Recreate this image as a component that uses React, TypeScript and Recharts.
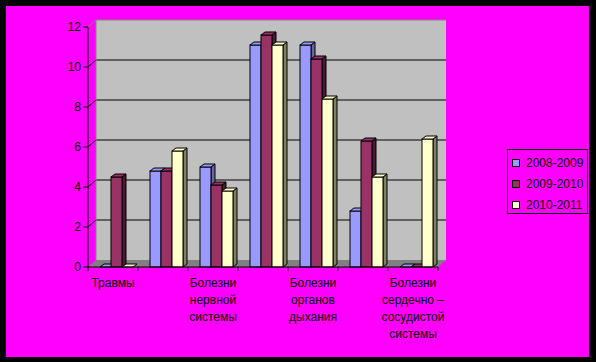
import React from 'react';
import { BarChart, Bar, XAxis, YAxis, ReferenceArea } from 'recharts';

// categories (only every other one carries a caption in the original)
const categories = [
  'Травмы',
  '',
  'Болезни нервной системы',
  '',
  'Болезни органов дыхания',
  '',
  'Болезни сердечно – сосудистой системы',
];

const seriesNames = ['2008-2009', '2009-2010', '2010-2011'];
const values2008 = [0, 4.8, 5.0, 11.1, 11.1, 2.8, 0];
const values2009 = [4.5, 4.8, 4.1, 11.6, 10.4, 6.3, 0];
const values2010 = [0, 5.8, 3.8, 11.1, 8.4, 4.5, 6.4];
const yTicks = [0, 2, 4, 6, 8, 10, 12];

const FRONT = ['#9999ff', '#993366', '#ffffcc'];
const SIDE = ['#666699', '#4d1933', '#808066'];

const W = 596;
const H = 362;
const MARGIN = { top: 27, right: 158, bottom: 15, left: 0 };
const Y_AXIS_W = 88;
const X_AXIS_H = 80;
const BAND_HALF = (W - MARGIN.left - MARGIN.right - Y_AXIS_W) / categories.length / 2;

// depth of the 3d walls and of the bars
const WALL_DX = 8;
const WALL_DY = 7;
const BAR_DX = 4;
const BAR_DY = 3;
const BAR_SHIFT = 3;

const data = categories.map((name, i) => ({
  name,
  s0: values2008[i],
  s1: values2009[i],
  s2: values2010[i],
}));

const series = seriesNames.map((name, i) => ({ name, key: `s${i}`, fill: FRONT[i], side: SIDE[i] }));

const Wall = (props: any) => {
  const { x, y, width, height } = props;
  const base = y + height;
  const top = yTicks[yTicks.length - 1];
  const floor = [
    [x, base],
    [x + width, base],
    [x + width + WALL_DX, base - WALL_DY],
    [x + WALL_DX, base - WALL_DY],
  ]
    .map((p) => p.join(','))
    .join(' ');
  return (
    <g>
      <rect x={x + WALL_DX} y={y - WALL_DY} width={width} height={height} fill="#c0c0c0" />
      <polygon points={floor} fill="#808080" />
      {yTicks
        .filter((t) => t > 0)
        .map((t) => {
          const ty = base - (t / top) * height;
          const c = t === top ? '#808080' : '#000';
          return (
            <g key={t}>
              <line x1={x} y1={ty} x2={x + WALL_DX} y2={ty - WALL_DY} stroke={c} />
              <line x1={x + WALL_DX} y1={ty - WALL_DY} x2={x + width + WALL_DX} y2={ty - WALL_DY} stroke={c} />
            </g>
          );
        })}
      <line x1={x + WALL_DX} y1={y - WALL_DY} x2={x + WALL_DX} y2={base - WALL_DY} stroke="#808080" />
    </g>
  );
};

const Box = (props: any) => {
  const { x, y, width, height, fill, side } = props;
  const x0 = x + BAR_SHIFT;
  const x1 = x0 + width;
  const topFace = `${x0},${y} ${x0 + BAR_DX},${y - BAR_DY} ${x1 + BAR_DX},${y - BAR_DY} ${x1},${y}`;
  const sideFace = `${x1},${y} ${x1 + BAR_DX},${y - BAR_DY} ${x1 + BAR_DX},${y + height - BAR_DY} ${x1},${y + height}`;
  return (
    <g stroke="#000" strokeWidth={1}>
      {height > 0 && <polygon points={sideFace} fill={side} />}
      {height > 0 && <rect x={x0} y={y} width={width} height={height} fill={fill} />}
      <polygon points={topFace} fill={fill} />
    </g>
  );
};

const splitLabel = (s: string) => {
  const out: string[] = [];
  s.split(' ').forEach((w) => {
    if (w === '–' && out.length) out[out.length - 1] += ' –';
    else if (w) out.push(w);
  });
  return out;
};

const XTick = (props: any) => {
  const { x, y, payload, index, visibleTicksCount } = props;
  const half = payload?.offset || BAND_HALF;
  const axisY = y - 6;
  const lines = splitLabel(String(payload?.value ?? ''));
  return (
    <g>
      <line x1={x - half} y1={axisY} x2={x - half} y2={axisY + 4} stroke="#000" />
      {index === visibleTicksCount - 1 && (
        <line x1={x + half} y1={axisY} x2={x + half} y2={axisY + 4} stroke="#000" />
      )}
      {lines.length > 0 && (
        <text x={x} y={y} textAnchor="middle" fontSize={12} fill="#000">
          {lines.map((l, i) => (
            <tspan key={i} x={x} dy={i === 0 ? 14 : 17}>
              {l}
            </tspan>
          ))}
        </text>
      )}
    </g>
  );
};

export default function App() {
  return (
    <div
      style={{
        position: 'absolute',
        left: 0,
        top: 0,
        width: W,
        height: H,
        background: '#000',
        fontFamily: 'Arial, "Liberation Sans", sans-serif',
      }}
    >
      <div style={{ position: 'absolute', left: 6, top: 6, width: 583, height: 351, background: '#ff00ff' }} />
      <div style={{ position: 'absolute', left: 0, top: 0 }}>
        <BarChart width={W} height={H} data={data} margin={MARGIN} barSize={11} barGap={0}>
          <ReferenceArea y1={0} y2={12} ifOverflow="visible" shape={<Wall />} />
          <XAxis
            dataKey="name"
            height={X_AXIS_H}
            interval={0}
            tickSize={4}
            tickMargin={2}
            tickLine={false}
            axisLine={{ stroke: '#000' }}
            tick={<XTick />}
          />
          <YAxis
            width={Y_AXIS_W}
            domain={[0, 12]}
            ticks={yTicks}
            tickSize={5}
            tickMargin={2}
            axisLine={{ stroke: '#000' }}
            tickLine={{ stroke: '#000' }}
            tick={{ fill: '#000', fontSize: 12 }}
          />
          {series.map((s) => (
            <Bar
              key={s.key}
              dataKey={s.key}
              name={s.name}
              fill={s.fill}
              isAnimationActive={false}
              shape={(p: any) => <Box {...p} side={s.side} />}
            />
          ))}
        </BarChart>
      </div>
      <div
        style={{
          position: 'absolute',
          left: 507,
          top: 149,
          width: 79,
          height: 63,
          border: '1px solid #000',
          fontSize: 12,
          color: '#000',
        }}
      >
        {series.map((s, i) => (
          <div
            key={s.key}
            style={{ position: 'absolute', left: 4, top: 6 + i * 21, display: 'flex', alignItems: 'center', height: 14 }}
          >
            <span
              style={{ width: 6, height: 6, background: s.fill, border: '1px solid #000', marginRight: 6, display: 'inline-block' }}
            />
            <span>{s.name}</span>
          </div>
        ))}
      </div>
    </div>
  );
}
